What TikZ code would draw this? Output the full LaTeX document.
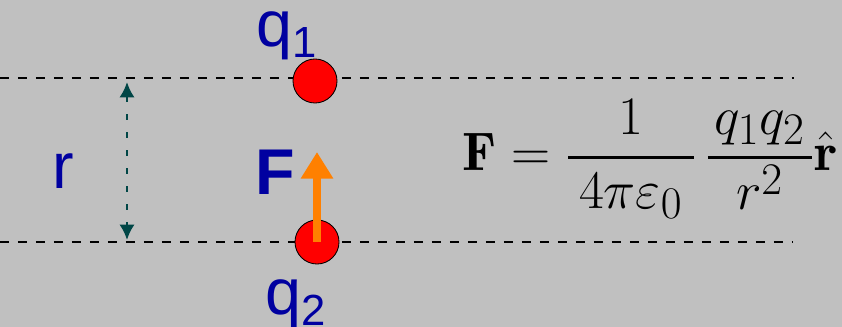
\documentclass[tikz,border=0pt]{standalone}
\usepackage{amsmath}
\usepackage{graphicx}
\usepackage{fontspec}
\usepackage{tikz}
\usetikzlibrary{arrows.meta}
\newfontfamily\labelfont{Liberation Sans}
\definecolor{bggray}{RGB}{192,192,192}
\definecolor{labelblue}{RGB}{0,0,160}
\definecolor{darkteal}{RGB}{0,70,70}
\definecolor{forceorange}{RGB}{255,128,0}
\tikzset{
  lbl/.style={inner sep=0pt,anchor=base west,text=labelblue,
              font=\labelfont\fontsize{46}{46}\selectfont},
  charge/.style={circle,fill=red,draw=black,line width=0.6pt,
                 minimum size=1.1cm,inner sep=0pt},
  plate/.style={dash pattern=on 6.4pt off 6.4pt,line width=1.4pt},
  sep/.style={{Latex[length=11pt,width=11pt]}-{Latex[length=11pt,width=11pt]},
              dash pattern=on 4.3pt off 8.5pt,line width=2pt,color=darkteal},
  force/.style={-{Triangle[length=19pt,width=22pt]},line width=5pt,color=forceorange},
}
\newcommand{\sub}[1]{{\fontsize{31}{31}\selectfont\raisebox{-7.5pt}{#1}}}

\begin{document}
\begin{tikzpicture}[x=0.025cm,y=-0.025cm]
  \fill[bggray](0,0)rectangle(842,327);
  \useasboundingbox(0,0)rectangle(842,327);
  % plates
  \coordinate(l1) at (0,78);
  \coordinate(r1) at (794,78);
  \coordinate(l2) at (0,242);
  \coordinate(r2) at (792,242);
  \draw[plate](l1)--(r1);
  \draw[plate](l2)--(r2);
  % charges
  \node[charge](q1dot) at (315,81){};
  \node[charge](q2dot) at (317,242){};
  \node[lbl](q1lbl) at (256,47){q\sub{1}};
  \node[lbl](q2lbl) at (265,315){q\sub{2}};
  % separation
  \coordinate(rtop) at (127,82);
  \coordinate(rbot) at (127,240);
  \draw[sep](rtop)--(rbot);
  \node[lbl](rlbl) at (52,189){r};
  % force
  \coordinate(ftip) at (317,152);
  \draw[force](q2dot.center)--(ftip);
  \node[lbl,font=\labelfont\bfseries\fontsize{46}{46}\selectfont](flbl) at (255,195){F};
  % Coulomb's law
  \node[inner sep=0pt,anchor=base west,font=\Huge](law) at (462,171)
    {\scalebox{1.55}{$\displaystyle\mathbf{F}=\frac{1}{\hspace{5pt}4\pi\varepsilon_0\hspace{5pt}}\,\frac{\hspace{3pt}q_1q_2\hspace{3pt}}{r^2}\hat{\mathbf{r}}$}};
\end{tikzpicture}
\end{document}
